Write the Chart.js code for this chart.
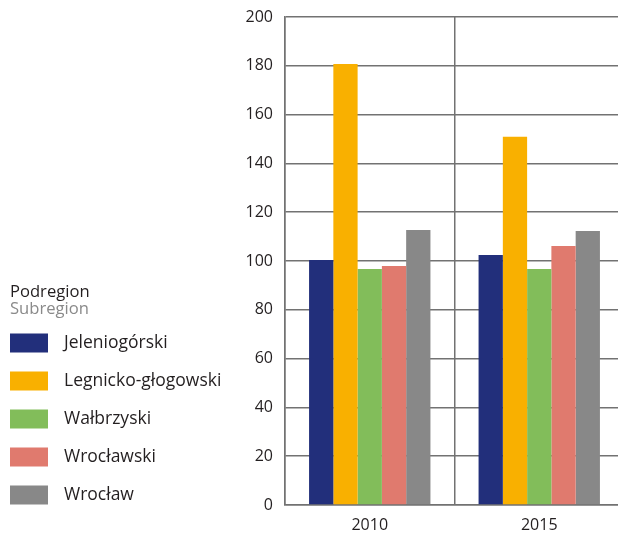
<!DOCTYPE html>
<html>
<head>
<meta charset="utf-8">
<script src="https://cdn.jsdelivr.net/npm/chart.js@4/dist/chart.umd.min.js"></script>
<style>
  html, body { margin: 0; padding: 0; background: #fff; overflow: hidden; }
  #wrap { width: 624px; height: 537px; }
</style>
</head>
<body>
<div id="wrap"><canvas id="subregions"></canvas></div>
<script>
var years = ['2010', '2015'];
var subregions = ['Jeleniogórski', 'Legnicko-głogowski', 'Wałbrzyski', 'Wrocławski', 'Wrocław'];
var jeleniogorski = [100.4, 102.5];
var legnickoGlogowski = [180.7, 150.9];
var walbrzyski = [96.7, 96.7];
var wroclawski = [98.0, 106.1];
var wroclaw = [112.7, 112.3];
var yTicks = [0, 20, 40, 60, 80, 100, 120, 140, 160, 180, 200];

var colors = ['#222f7b', '#f9b000', '#82bd5a', '#e07a6e', '#888888'];
var series = [jeleniogorski, legnickoGlogowski, walbrzyski, wroclawski, wroclaw];
var font = '"Open Sans", sans-serif';
var textColor = '#231f20';
var gridColor = '#727272';

// legend drawn on the left side of the canvas
var sideLegend = {
    id: 'sideLegend',
    afterDraw: function(chart) {
        var ctx = chart.ctx;
        ctx.save();
        ctx.textAlign = 'left';
        ctx.textBaseline = 'alphabetic';
        ctx.font = '16.6px ' + font;
        ctx.fillStyle = textColor;
        ctx.fillText('Podregion', 10, 297);
        ctx.fillStyle = '#8a8a8a';
        ctx.fillText('Subregion', 10, 314);
        ctx.font = '17.5px ' + font;
        ctx.textBaseline = 'middle';
        chart.data.datasets.forEach(function(ds, i) {
            var y = 343 + i * 38;
            ctx.fillStyle = ds.backgroundColor;
            ctx.fillRect(10, y - 9.5, 38, 19);
            ctx.fillStyle = textColor;
            ctx.fillText(ds.label, 64, y);
        });
        ctx.restore();
    }
};

var ctx = document.getElementById('subregions').getContext('2d');

var chart = new Chart(ctx, {
    type: 'bar',
    data: {
        labels: years,
        datasets: subregions.map(function(name, i) {
            return {
                label: name,
                data: series[i],
                backgroundColor: colors[i],
                borderWidth: 0,
                barPercentage: 1,
                categoryPercentage: 0.716
            };
        })
    },
    options: {
        responsive: true,
        maintainAspectRatio: false,
        animation: false,
        layout: { padding: { top: 17, left: 0, right: 0, bottom: 0 } },
        plugins: {
            legend: { display: false },
            tooltip: { enabled: false }
        },
        scales: {
            x: {
                grid: { color: gridColor, lineWidth: 1.5, drawTicks: false },
                border: { color: gridColor, width: 1.5 },
                ticks: { color: textColor, font: { family: font, size: 16 }, padding: 11 },
                afterFit: function(scale) { scale.height = 32; }
            },
            y: {
                min: 0,
                max: 200,
                afterBuildTicks: function(scale) {
                    scale.ticks = yTicks.map(function(v) { return { value: v }; });
                },
                grid: { color: gridColor, lineWidth: 1.5, drawTicks: true, tickLength: 6, tickColor: 'rgba(0,0,0,0)' },
                border: { color: gridColor, width: 1.5 },
                ticks: { color: textColor, font: { family: font, size: 16 }, padding: 6 },
                afterFit: function(scale) { scale.width = 285; }
            }
        }
    },
    plugins: [sideLegend]
});
</script>
</body>
</html>
